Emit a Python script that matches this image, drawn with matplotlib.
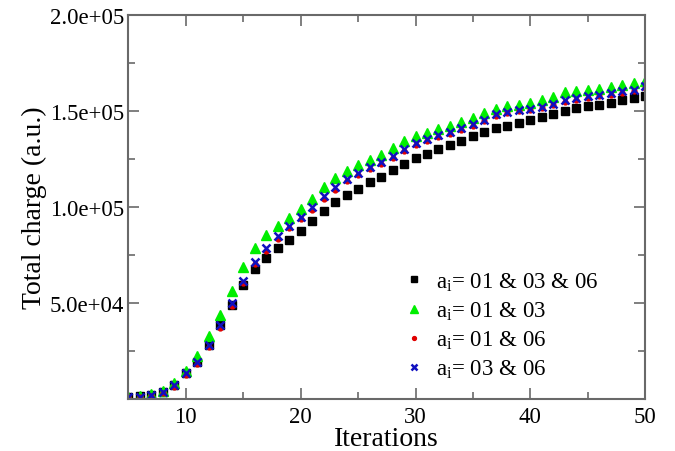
import matplotlib
matplotlib.use("Agg")
import matplotlib.pyplot as plt
from matplotlib.ticker import FuncFormatter, MultipleLocator

plt.rcParams['font.family'] = ['Liberation Serif', 'DejaVu Serif']
plt.rcParams['mathtext.fontset'] = 'custom'
plt.rcParams['mathtext.rm'] = 'Liberation Serif'
plt.rcParams['mathtext.it'] = 'Liberation Serif:italic'

iterations = list(range(5, 51))

# a_i = 01 & 03 & 06
q_010306 = [1200, 1400, 2200, 3800, 7300, 13400, 19400, 28300, 38500, 49000,
            59400, 67700, 73400, 78500, 83000, 87500, 92500, 97700, 102800, 106400,
            109500, 112800, 115600, 119100, 122600, 125300, 127600, 130200, 132300, 134400,
            136800, 139200, 141100, 142300, 143600, 145300, 147000, 148400, 150000, 151600,
            152400, 153300, 154300, 155400, 156600, 158000]
# a_i = 01 & 03
q_0103 = [1200, 1500, 2600, 4300, 8200, 14400, 22600, 32600, 43900, 56400,
          68600, 78800, 85400, 90300, 94300, 98900, 104200, 110200, 115100, 118900,
          121900, 124500, 127100, 130500, 134400, 136800, 138500, 140600, 142300, 144100,
          146200, 148900, 151000, 152400, 153100, 154200, 155400, 157100, 159700, 160200,
          161100, 161300, 162300, 163500, 164600, 165800]
# a_i = 01 & 06
q_0106 = [900, 1000, 1800, 3300, 6500, 12300, 18200, 27000, 37200, 48600,
          60500, 70200, 77000, 83500, 88800, 93600, 98500, 104300, 109000, 113400,
          116400, 119500, 122100, 125500, 129000, 132000, 134300, 136400, 137800, 140000,
          142200, 144500, 147400, 148700, 149800, 150200, 151300, 152800, 154500, 155800,
          156800, 157500, 158400, 159400, 160300, 162000]
# a_i = 03 & 06
q_0306 = [1200, 1300, 2200, 3800, 7300, 13400, 19400, 28300, 38500, 50000,
          61600, 71500, 78500, 85100, 90300, 94800, 99800, 105500, 110200, 114600,
          117500, 120700, 123200, 126700, 130200, 133100, 135400, 137500, 138900, 141000,
          143200, 145500, 148400, 149600, 150700, 151000, 152200, 153600, 155400, 156600,
          157600, 158300, 159200, 160200, 161100, 162800]

labels = [r'a$_{\mathrm{i}}$= 01 & 03 & 06', r'a$_{\mathrm{i}}$= 01 & 03',
          r'a$_{\mathrm{i}}$= 01 & 06', r'a$_{\mathrm{i}}$= 03 & 06']

fig = plt.figure(figsize=(6.75, 4.52), dpi=100)
ax = fig.add_axes([0.19, 0.115, 0.766, 0.85])

ax.plot(iterations, q_010306, 's', color='black', ms=5.5, ls='none', label=labels[0])
ax.plot(iterations, q_0103, '^', color='#00ee00', ms=7.5, ls='none', label=labels[1])
ax.plot(iterations, q_0106, 'o', color='#e00000', ms=3.5, ls='none', label=labels[2])
ax.plot(iterations, q_0306, 'x', color='#1010c0', ms=6, mew=1.8, ls='none', label=labels[3])

ax.set_xlim(5, 50)
ax.set_ylim(0, 2.0e5)
ax.set_xticks([10, 20, 30, 40, 50])
ax.xaxis.set_minor_locator(MultipleLocator(5))
ax.set_yticks([5e4, 1e5, 1.5e5, 2e5])
ax.yaxis.set_minor_locator(MultipleLocator(2.5e4))
ax.yaxis.set_major_formatter(FuncFormatter(lambda v, p: '%.1e' % v))

ax.tick_params(which='both', direction='in', top=True, right=True,
               labelsize=16.5, color='dimgray')
ax.tick_params(which='major', length=8, width=1.2, pad=3)
ax.tick_params(axis='x', which='major', pad=5)
ax.tick_params(which='minor', length=5, width=1.2)
for s in ax.spines.values():
    s.set_color('dimgray')
    s.set_linewidth(1.5)

ax.set_xlabel('Iterations', fontsize=20, labelpad=-1)
ax.set_ylabel('Total charge (a.u.)', fontsize=20, labelpad=2)

ax.legend(loc='lower right', bbox_to_anchor=(0.95, -0.005), frameon=False,
          fontsize=16.5, handletextpad=0.4, markerscale=0.8, labelspacing=0.3,
          handlelength=1.2)

fig.savefig('out.png', dpi=100)
